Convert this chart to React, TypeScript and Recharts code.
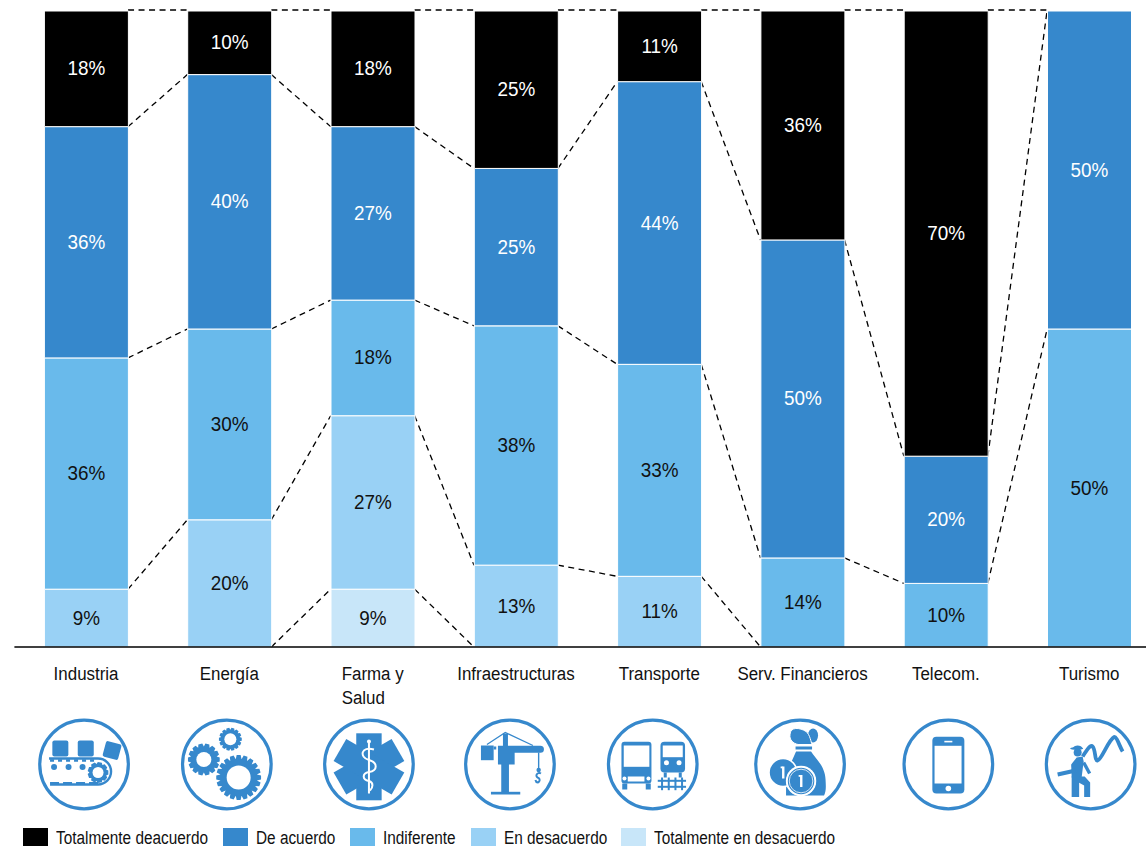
import React from 'react';
import { BarChart, Bar, XAxis, YAxis, Legend, LabelList } from 'recharts';

const categories = ['Industria', 'Energía', 'Farma y\nSalud', 'Infraestructuras', 'Transporte', 'Serv. Financieros', 'Telecom.', 'Turismo'];

// Stack order runs bottom to top
const totalmenteEnDesacuerdo = [0, 0, 9, 0, 0, 0, 0, 0];
const enDesacuerdo = [9, 20, 27, 13, 11, 0, 0, 0];
const indiferente = [36, 30, 18, 38, 33, 14, 10, 50];
const deAcuerdo = [36, 40, 27, 25, 44, 50, 20, 50];
const totalmenteDeacuerdo = [18, 10, 18, 25, 11, 36, 70, 0];

const stackValues = [totalmenteEnDesacuerdo, enDesacuerdo, indiferente, deAcuerdo, totalmenteDeacuerdo];
const stackKeys = ['s0', 's1', 's2', 's3', 's4'];
const stackNames = ['Totalmente en desacuerdo', 'En desacuerdo', 'Indiferente', 'De acuerdo', 'Totalmente deacuerdo'];
const stackColors = ['#C8E6F9', '#99D1F5', '#69BAEB', '#3688CC', '#000000'];
const labelColors = ['#111111', '#111111', '#111111', '#ffffff', '#ffffff'];

const tableData = categories.map((name, i) => {
  const row: Record<string, string | number> = { name };
  stackKeys.forEach((key, k) => { row[key] = stackValues[k][i]; });
  return row;
});

const CHART_W = 1166;
const CHART_H = 850;
const PLOT_LEFT = 14.4;
const PLOT_W = 1146.4;
const PLOT_TOP = 11;
const PLOT_BOTTOM = 647;
const LEGEND_H = 22;
const BAR_W = 84;
const ICON = '#3688CC';
const TEXT_SQUEEZE = 0.9;

// small horizontal offsets of each round icon from its bar centre
const iconNudge = [-2, -2.5, -3.7, -6, -6.5, -2.5, 2.5, 1.5];
// left edge of each legend entry, top of the stack first
const legendLefts = [23, 223, 350, 470.5, 621];

const gearPath = (cx: number, cy: number, outer: number, inner: number, teeth: number) => {
  const pts: string[] = [];
  const step = (Math.PI * 2) / teeth;
  for (let t = 0; t < teeth; t++) {
    const a = t * step;
    [[inner, -0.5], [outer, -0.28], [outer, 0.28], [inner, 0.5]].forEach(([r, f]) => {
      pts.push(`${(cx + r * Math.cos(a + f * step)).toFixed(2)},${(cy + r * Math.sin(a + f * step)).toFixed(2)}`);
    });
  }
  return `M${pts.join('L')}Z`;
};

const Gear = ({ x, y, r, hole, teeth }: { x: number; y: number; r: number; hole: number; teeth: number }) => (
  <g>
    <path d={gearPath(x, y, r, r * 0.82, teeth)} fill={ICON} />
    <circle cx={x} cy={y} r={hole} fill="#fff" />
  </g>
);

const Conveyor = () => (
  <g fill={ICON}>
    <rect x={-31.7} y={-24} width={16} height={16} rx={2} />
    <rect x={-6.3} y={-24} width={16} height={16} rx={2} />
    <rect x={20} y={-22} width={16} height={16} rx={2} transform="rotate(15 28 -14)" />
    <path d="M-35,-6 H14 A13,13 0 0 1 14,20 H-34" fill="none" stroke={ICON} strokeWidth={2.4} />
    <path d="M-34,-4 H14" fill="none" stroke={ICON} strokeWidth={2.5} strokeDasharray="4 4" />
    <path d="M-34,18.5 H14" fill="none" stroke={ICON} strokeWidth={2} strokeDasharray="9 4" />
    <circle cx={-30} cy={2.5} r={3} />
    <circle cx={-15.5} cy={2.5} r={3} />
    <circle cx={-1.5} cy={2.5} r={3} />
    <Gear x={14} y={8} r={10.5} hole={5.5} teeth={9} />
  </g>
);

const Gears = () => (
  <g>
    <Gear x={11.8} y={13} r={22.5} hole={12} teeth={20} />
    <Gear x={-23} y={-5} r={16} hole={7.5} teeth={14} />
    <Gear x={3.5} y={-25.3} r={11.5} hole={6} teeth={14} />
  </g>
);

const StarOfLife = () => (
  <g>
    {[0, 60, 120].map(a => (
      <rect key={a} x={-12.7} y={-31.2} width={25.4} height={67} fill={ICON} transform={`rotate(${a} 0 2.3)`} />
    ))}
    <rect x={-1} y={-22} width={2} height={51} fill="#fff" />
    <circle cx={0} cy={-23} r={2} fill="#fff" />
    <path d="M5,-15 C-8,-19 -10,-7 0,-4.5 C9,-2 9,6 0,7.5 C-7,9 -7,15 0,16.5 C5,18 4,23 1,26" fill="none" stroke="#fff" strokeWidth={2} />
  </g>
);

const Crane = () => (
  <g fill={ICON}>
    <rect x={-8.7} y={-1} width={7.7} height={29} />
    <rect x={-19} y={27.3} width={29.3} height={2.7} />
    <path d="M-12,-18.7 H30.5 A3.5,3.5 0 0 1 30.5,-11.7 H4.7 V0 H-12 Z" />
    <rect x={-29} y={-19} width={12.7} height={14.7} />
    <rect x={-16.3} y={-18} width={2.6} height={3} />
    <rect x={-7} y={-31} width={5} height={13} />
    <path d="M-23,-20 L-4.7,-32 L23,-19" fill="none" stroke={ICON} strokeWidth={1.3} />
    <rect x={28} y={-12} width={1.4} height={16} />
    <circle cx={28.7} cy={5.5} r={2.2} />
    <path d="M31,9 A3,3 0 0 0 26.5,10.5 A2.6,2.6 0 0 0 28.7,13.5 A2.6,2.6 0 0 1 28,18 A3,3 0 0 1 25.5,15.5" fill="none" stroke={ICON} strokeWidth={2} />
  </g>
);

const Transit = () => (
  <g fill={ICON}>
    <rect x={-31.3} y={-22.7} width={30} height={41.7} rx={3} />
    <rect x={-29} y={-19} width={25.6} height={21.3} fill="#fff" />
    <circle cx={-28.3} cy={14} r={2} fill="#fff" />
    <circle cx={-4.3} cy={14} r={2} fill="#fff" />
    <rect x={-25} y={12} width={16.7} height={5} fill="#fff" />
    <rect x={-30.5} y={19} width={5} height={6} />
    <rect x={-7} y={19} width={5} height={6} />
    <rect x={7.7} y={-22.7} width={24.6} height={30.7} rx={4} />
    <rect x={10} y={-19} width={20} height={11.7} fill="#fff" />
    <circle cx={13.7} cy={-1.7} r={2.5} fill="#fff" />
    <circle cx={26.3} cy={-1.7} r={2.5} fill="#fff" />
    <rect x={11} y={8} width={3} height={5} />
    <rect x={26} y={8} width={3} height={5} />
    <rect x={5} y={15.3} width={28.3} height={2} />
    <rect x={5} y={21.3} width={28.3} height={2} />
    {[9.3, 16, 22.7, 29.3].map(x => <rect key={x} x={x - 1} y={13} width={2} height={12.7} />)}
  </g>
);

const Coin = ({ x, y }: { x: number; y: number }) => (
  <g>
    <circle cx={x} cy={y} r={14} fill={ICON} stroke="#fff" strokeWidth={1.5} />
    <rect x={x - 1} y={y - 6} width={2.4} height={12} fill="#fff" />
    <rect x={x - 2.4} y={y - 6} width={2} height={1.8} fill="#fff" />
  </g>
);

const MoneyBag = () => (
  <g fill={ICON}>
    <ellipse cx={13} cy={-29} rx={5} ry={7} />
    <path d="M-10,-30 C-10,-38 0,-37 6,-33 C10,-30 11,-22 12,-20 H-2 C-7,-21 -11,-25 -10,-30 Z" stroke="#fff" strokeWidth={1} />
    <rect x={-4.5} y={-18} width={16.5} height={3} />
    <path d="M-4,-13 H11 C15,-6 25,1 25.5,15 C26,23 26,27 24,31 H-14 L-14,24 L-12,5 Z" />
    <Coin x={-17} y={8} />
    <circle cx={1} cy={16.5} r={15.2} fill="#fff" />
    <Coin x={1} y={16.5} />
    <circle cx={1} cy={16.5} r={11.8} fill="none" stroke="#fff" strokeWidth={0.8} />
  </g>
);

const Phone = () => (
  <g fill={ICON}>
    <rect x={-16} y={-27.7} width={32} height={56.7} rx={4} />
    <rect x={-13.8} y={-18.7} width={27} height={37.7} fill="#fff" />
    <rect x={-4} y={-23.7} width={8} height={1.6} fill="#fff" />
    <circle cx={0} cy={24} r={2.8} fill="#fff" />
  </g>
);

const Climber = () => (
  <g fill={ICON}>
    <path d="M-8,-8 C-3,-16 0,-20 2,-18 C5,-15 4,-3 7,-4 C11,-5 18,-25 23.5,-27.5 C26,-28 29,-18 32,-13" fill="none" stroke={ICON} strokeWidth={3.8} />
    <ellipse cx={-14} cy={-16} rx={6.5} ry={1.5} />
    <path d="M-18,-16 C-17,-20 -9,-20 -8,-16 Z" />
    <circle cx={-13} cy={-12} r={4} />
    <path d="M-14,-7 L-8,-8 L-7,-3 L-9,13 L-19,13 L-19.5,0 Z" />
    <path d="M-33,10 L-15,6" fill="none" stroke={ICON} strokeWidth={4} />
    <path d="M-7,-2 L-1,9" fill="none" stroke={ICON} strokeWidth={3.4} />
    <rect x={-19} y={12} width={7.5} height={20.5} />
    <path d="M-12,12 H-6 L-0.5,18 V32.5 H-6.5 V21 L-12,18 Z" />
  </g>
);

const icons = [Conveyor, Gears, StarOfLife, Crane, Transit, MoneyBag, Phone, Climber];

// Category name, possibly on two left-aligned lines, with its round icon underneath
const CategoryTick = (props: any) => {
  const { x, payload, index } = props;
  const lines = String(payload.value).split('\n');
  const IconShape = icons[index];
  const multi = lines.length > 1;
  const textX = multi ? x - 31 : x;
  return (
    <g>
      <text
        transform={`translate(${textX} ${PLOT_BOTTOM + 33}) scale(${TEXT_SQUEEZE} 1)`}
        textAnchor={multi ? 'start' : 'middle'}
        fontSize={18.8}
        fill="#111"
      >
        {lines.map((line, i) => (
          <tspan key={i} x={0} dy={i === 0 ? 0 : 24}>{line}</tspan>
        ))}
      </text>
      <g transform={`translate(${x + iconNudge[index]} ${PLOT_BOTTOM + 117.5})`}>
        <circle r={44.3} fill="none" stroke={ICON} strokeWidth={3.2} />
        <IconShape />
      </g>
    </g>
  );
};

// Percentage centred in its segment; empty segments print nothing
const segmentLabel = (fill: string) => (props: any) => {
  const { value, viewBox } = props;
  if (!value || !viewBox) return null;
  const cx = viewBox.x + viewBox.width / 2;
  const cy = viewBox.y + viewBox.height / 2 + 6.5;
  return (
    <text transform={`translate(${cx} ${cy}) scale(${TEXT_SQUEEZE} 1)`} textAnchor="middle" fontSize={21} fill={fill}>
      {`${value}%`}
    </text>
  );
};

// Dashed lines joining the cumulative top of each stack level across neighbouring bars
const Connectors = () => {
  const step = PLOT_W / categories.length;
  const plotH = PLOT_BOTTOM - PLOT_TOP;
  const topOf = (i: number, level: number) => {
    const total = stackValues.reduce((sum, s) => sum + s[i], 0);
    const cum = stackValues.slice(0, level + 1).reduce((sum, s) => sum + s[i], 0);
    return PLOT_BOTTOM - (cum / total) * plotH;
  };
  const lines: React.ReactElement[] = [];
  for (let i = 0; i < categories.length - 1; i++) {
    const x1 = PLOT_LEFT + step * (i + 0.5) + BAR_W / 2;
    const x2 = PLOT_LEFT + step * (i + 1.5) - BAR_W / 2;
    stackValues.forEach((_, level) => {
      const y1 = topOf(i, level);
      const y2 = topOf(i + 1, level);
      if (y1 === PLOT_BOTTOM && y2 === PLOT_BOTTOM) return;
      if (level > 0 && y1 === topOf(i, level - 1) && y2 === topOf(i + 1, level - 1)) return;
      lines.push(
        <line key={`${i}-${level}`} x1={x1} y1={y1 - (y1 === PLOT_TOP ? 1 : 0)} x2={x2} y2={y2 - (y2 === PLOT_TOP ? 1 : 0)} stroke="#000" strokeWidth={1.3} strokeDasharray="6 4.5" />
      );
    });
  }
  return <g>{lines}</g>;
};

// Legend reads from the top of the stack downwards
const LegendRow = () => (
  <div style={{ position: 'relative', height: LEGEND_H, fontSize: 17.6, color: '#111' }}>
    {[...stackNames].reverse().map((name, i) => (
      <div key={name} style={{ position: 'absolute', left: legendLefts[i], top: 0, height: 19 }}>
        <span style={{ position: 'absolute', left: 0, top: 0, width: 25, height: 18, background: [...stackColors].reverse()[i] }} />
        <span style={{ position: 'absolute', left: 33, top: 0, whiteSpace: 'nowrap', lineHeight: '21px', transform: `scaleX(${TEXT_SQUEEZE * 0.97})`, transformOrigin: 'left center' }}>{name}</span>
      </div>
    ))}
  </div>
);

export default function App() {
  return (
    <div style={{ position: 'absolute', left: 0, top: 0, width: 1146, height: CHART_H, overflow: 'hidden', fontFamily: '"Liberation Sans", Arial, sans-serif' }}>
      <BarChart
        width={CHART_W}
        height={CHART_H}
        data={tableData}
        stackOffset="expand"
        margin={{ top: PLOT_TOP, right: CHART_W - PLOT_LEFT - PLOT_W, bottom: 0, left: PLOT_LEFT }}
      >
        <XAxis
          dataKey="name"
          interval={0}
          height={CHART_H - PLOT_BOTTOM - LEGEND_H}
          tickLine={false}
          axisLine={{ stroke: '#000', strokeWidth: 1.3 }}
          tick={CategoryTick}
        />
        <YAxis hide domain={[0, 1]} />
        {stackKeys.map((key, k) => (
          <Bar key={key} dataKey={key} name={stackNames[k]} stackId="a" fill={stackColors[k]} stroke="#fff" strokeWidth={1} barSize={BAR_W} isAnimationActive={false}>
            <LabelList dataKey={key} content={segmentLabel(labelColors[k])} />
          </Bar>
        ))}
        <Connectors />
        <Legend verticalAlign="bottom" align="left" height={LEGEND_H} content={LegendRow} wrapperStyle={{ left: 0, width: 1146 }} />
      </BarChart>
    </div>
  );
}
